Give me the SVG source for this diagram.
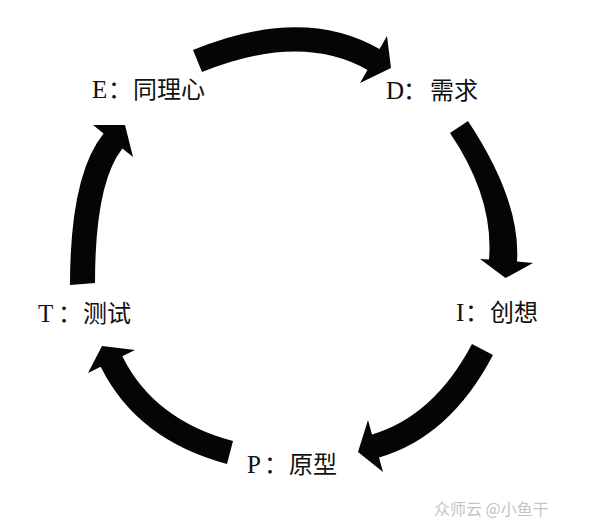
<svg xmlns="http://www.w3.org/2000/svg" width="600" height="524" viewBox="0 0 600 524">
  <style>
    .arrow { fill: #050505; stroke: none; }
    .label { font-family: "Liberation Serif", "Noto Sans CJK SC", serif; font-size: 25px; fill: #111; }
    .colon { font-family: "Noto Sans CJK SC", sans-serif; font-size: 24px; }
    .cjk { font-family: "Noto Sans CJK SC", sans-serif; font-size: 24px; font-weight: 400; }
    .wm { font-family: "Noto Sans CJK SC", sans-serif; font-size: 16px; fill: #c4c4c4; }
  </style>
  <rect width="600" height="524" fill="#ffffff"/>
  <g id="connectors">
    <path id="arrow-E-D" class="arrow" d="M193,50 Q303,5 379.5,49.1 L387,36 L391,68 L360,83 L367.5,69.9 Q301,32 202,72 Z"/>
    <path id="arrow-D-I" class="arrow" d="M468,121 Q521,201 517,261.6 L533,263 L505.5,278 L480,259 L489,259.5 Q494,198 450,133 Z"/>
    <path id="arrow-I-P" class="arrow" d="M493,355 Q450,437 379,457.5 L383,472 L358,452 L368,420 L372,434.5 Q434,416 472,344 Z"/>
    <path id="arrow-P-T" class="arrow" d="M233,441 Q154,420 122.3,356.2 L135,350 L102,346 L88,373 L100.7,366.8 Q137,440 227,464 Z"/>
    <path id="arrow-T-E" class="arrow" d="M70,285 Q70,175 103.6,133.5 L93,125 L125,125 L133,157 L122.4,148.5 Q95,183 95,283 Z"/>
  </g>
  <g id="node-E">
    <text class="label" x="92" y="98">E<tspan class="colon" x="108">：</tspan><tspan class="cjk" x="133">同理心</tspan></text>
  </g>
  <g id="node-D">
    <text class="label" x="386" y="99">D<tspan class="colon" x="403">：</tspan><tspan class="cjk" x="430">需求</tspan></text>
  </g>
  <g id="node-I">
    <text class="label" x="456" y="321">I<tspan class="colon" x="465">：</tspan><tspan class="cjk" x="490">创想</tspan></text>
  </g>
  <g id="node-P">
    <text class="label" x="247" y="473">P<tspan class="colon" x="264">：</tspan><tspan class="cjk" x="289">原型</tspan></text>
  </g>
  <g id="node-T">
    <text class="label" x="38" y="322">T<tspan class="colon" x="58">：</tspan><tspan class="cjk" x="83">测试</tspan></text>
  </g>
  <text class="wm" x="434" y="515">众师云 @小鱼干</text>
</svg>
